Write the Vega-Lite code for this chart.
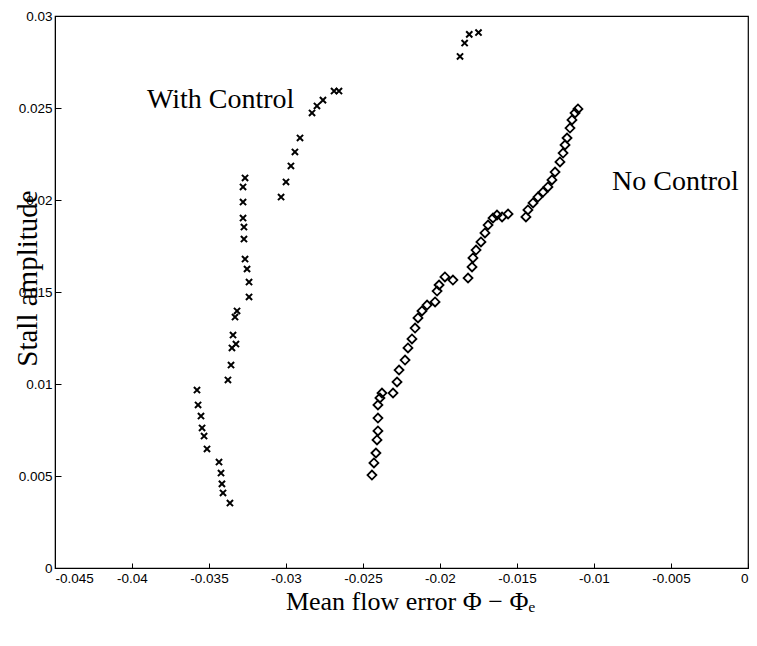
{
  "$schema": "https://vega.github.io/schema/vega-lite/v6.json",
  "autosize": {"type": "none"},
  "padding": {"left": 55, "top": 16, "right": 9, "bottom": 78},
  "width": 693,
  "height": 552,
  "background": "white",
  "config": {
    "view": {"stroke": "black", "strokeWidth": 1.2},
    "axis": {"grid": false, "domainColor": "black", "tickColor": "black", "labelColor": "black", "titleColor": "black", "labelFont": "Liberation Sans", "labelFontSize": 13.5, "titleFont": "Liberation Serif", "titleFontSize": 26, "titleFontWeight": "normal"}
  },
  "datasets": {
    "pts": [
      {"s": "with", "x": -0.0187, "y": 0.0278},
      {"s": "with", "x": -0.0184, "y": 0.02853},
      {"s": "with", "x": -0.0181, "y": 0.0290},
      {"s": "with", "x": -0.0175, "y": 0.0291},
      {"s": "with", "x": -0.02688, "y": 0.02592},
      {"s": "with", "x": -0.02656, "y": 0.02592},
      {"s": "with", "x": -0.0276, "y": 0.02543},
      {"s": "with", "x": -0.02799, "y": 0.02511},
      {"s": "with", "x": -0.02831, "y": 0.02473},
      {"s": "with", "x": -0.02909, "y": 0.02337},
      {"s": "with", "x": -0.02942, "y": 0.02261},
      {"s": "with", "x": -0.02968, "y": 0.02185},
      {"s": "with", "x": -0.03000, "y": 0.02098},
      {"s": "with", "x": -0.03032, "y": 0.02016},
      {"s": "with", "x": -0.03266, "y": 0.02120},
      {"s": "with", "x": -0.03279, "y": 0.02071},
      {"s": "with", "x": -0.03279, "y": 0.01989},
      {"s": "with", "x": -0.03279, "y": 0.01902},
      {"s": "with", "x": -0.03273, "y": 0.01853},
      {"s": "with", "x": -0.03273, "y": 0.01788},
      {"s": "with", "x": -0.03266, "y": 0.01679},
      {"s": "with", "x": -0.03253, "y": 0.01625},
      {"s": "with", "x": -0.03240, "y": 0.01554},
      {"s": "with", "x": -0.03240, "y": 0.01473},
      {"s": "with", "x": -0.03318, "y": 0.01397},
      {"s": "with", "x": -0.03331, "y": 0.01364},
      {"s": "with", "x": -0.03344, "y": 0.01266},
      {"s": "with", "x": -0.03325, "y": 0.01217},
      {"s": "with", "x": -0.03351, "y": 0.01196},
      {"s": "with", "x": -0.03357, "y": 0.01103},
      {"s": "with", "x": -0.03377, "y": 0.01022},
      {"s": "with", "x": -0.03578, "y": 0.00967},
      {"s": "with", "x": -0.03571, "y": 0.00886},
      {"s": "with", "x": -0.03552, "y": 0.00826},
      {"s": "with", "x": -0.03545, "y": 0.00761},
      {"s": "with", "x": -0.03532, "y": 0.00717},
      {"s": "with", "x": -0.03513, "y": 0.00647},
      {"s": "with", "x": -0.03435, "y": 0.00576},
      {"s": "with", "x": -0.03422, "y": 0.00516},
      {"s": "with", "x": -0.03416, "y": 0.00457},
      {"s": "with", "x": -0.03409, "y": 0.00408},
      {"s": "with", "x": -0.03364, "y": 0.00353},
      {"s": "no", "x": -0.02442, "y": 0.00505},
      {"s": "no", "x": -0.02429, "y": 0.00571},
      {"s": "no", "x": -0.02416, "y": 0.00625},
      {"s": "no", "x": -0.02409, "y": 0.00696},
      {"s": "no", "x": -0.02403, "y": 0.00745},
      {"s": "no", "x": -0.02403, "y": 0.00815},
      {"s": "no", "x": -0.02403, "y": 0.00886},
      {"s": "no", "x": -0.02390, "y": 0.00924},
      {"s": "no", "x": -0.02377, "y": 0.00951},
      {"s": "no", "x": -0.02305, "y": 0.00951},
      {"s": "no", "x": -0.02279, "y": 0.01011},
      {"s": "no", "x": -0.02266, "y": 0.01076},
      {"s": "no", "x": -0.02227, "y": 0.01130},
      {"s": "no", "x": -0.02208, "y": 0.01196},
      {"s": "no", "x": -0.02182, "y": 0.01245},
      {"s": "no", "x": -0.02162, "y": 0.01304},
      {"s": "no", "x": -0.02143, "y": 0.01359},
      {"s": "no", "x": -0.02117, "y": 0.01397},
      {"s": "no", "x": -0.02084, "y": 0.01429},
      {"s": "no", "x": -0.02032, "y": 0.01446},
      {"s": "no", "x": -0.02019, "y": 0.01505},
      {"s": "no", "x": -0.02006, "y": 0.01538},
      {"s": "no", "x": -0.01968, "y": 0.01582},
      {"s": "no", "x": -0.01916, "y": 0.01565},
      {"s": "no", "x": -0.01818, "y": 0.01576},
      {"s": "no", "x": -0.01792, "y": 0.01636},
      {"s": "no", "x": -0.01786, "y": 0.01685},
      {"s": "no", "x": -0.01766, "y": 0.01728},
      {"s": "no", "x": -0.01734, "y": 0.01772},
      {"s": "no", "x": -0.01708, "y": 0.01821},
      {"s": "no", "x": -0.01688, "y": 0.01864},
      {"s": "no", "x": -0.01656, "y": 0.01902},
      {"s": "no", "x": -0.01630, "y": 0.01918},
      {"s": "no", "x": -0.01597, "y": 0.01908},
      {"s": "no", "x": -0.01558, "y": 0.01924},
      {"s": "no", "x": -0.01442, "y": 0.01908},
      {"s": "no", "x": -0.01429, "y": 0.01946},
      {"s": "no", "x": -0.01396, "y": 0.01984},
      {"s": "no", "x": -0.01364, "y": 0.02016},
      {"s": "no", "x": -0.01331, "y": 0.02043},
      {"s": "no", "x": -0.01299, "y": 0.02071},
      {"s": "no", "x": -0.01273, "y": 0.02109},
      {"s": "no", "x": -0.01253, "y": 0.02152},
      {"s": "no", "x": -0.01221, "y": 0.02207},
      {"s": "no", "x": -0.01201, "y": 0.02255},
      {"s": "no", "x": -0.01188, "y": 0.02299},
      {"s": "no", "x": -0.01175, "y": 0.02337},
      {"s": "no", "x": -0.01156, "y": 0.02391},
      {"s": "no", "x": -0.01143, "y": 0.02435},
      {"s": "no", "x": -0.01123, "y": 0.02473},
      {"s": "no", "x": -0.01104, "y": 0.02495}
    ],
    "labels": [
      {"x": -0.03903, "y": 0.02543, "label": "With Control"},
      {"x": -0.00883, "y": 0.02098, "label": "No Control"}
    ]
  },
  "encoding": {
    "x": {"field": "x", "type": "quantitative",
      "scale": {"domain": [-0.045, 0], "nice": false, "zero": false},
      "axis": {"values": [-0.045, -0.04, -0.035, -0.03, -0.025, -0.02, -0.015, -0.01, -0.005, 0],
        "tickSize": -5, "labelPadding": 8, "format": "~g", "labelExpr": "replace(datum.label, '−', '-')",
        "title": "Mean flow error Φ − Φₑ", "titleX": 355, "titleY": 33, "titleBaseline": "middle"}},
    "y": {"field": "y", "type": "quantitative",
      "scale": {"domain": [0, 0.03], "nice": false},
      "axis": {"values": [0, 0.005, 0.01, 0.015, 0.02, 0.025, 0.03],
        "tickSize": -6, "labelPadding": 9, "format": "~g", "labelExpr": "replace(datum.label, '−', '-')",
        "title": "Stall amplitude", "titleFontSize": 29, "titleX": -28, "titleY": 262, "titleAngle": -90, "titleBaseline": "middle", "titleAlign": "center"}}
  },
  "layer": [
    {
      "data": {"name": "pts"},
      "transform": [{"filter": "datum.s === 'with'"}],
      "mark": {"type": "point", "shape": "M-1,-1L1,1M-1,1L1,-1", "filled": false, "stroke": "black", "strokeWidth": 2, "size": 38, "opacity": 1}
    },
    {
      "data": {"name": "pts"},
      "transform": [{"filter": "datum.s === 'no'"}],
      "mark": {"type": "point", "shape": "diamond", "filled": false, "stroke": "black", "strokeWidth": 1.8, "size": 80, "opacity": 1}
    },
    {
      "data": {"name": "labels"},
      "mark": {"type": "text", "align": "left", "baseline": "middle", "font": "Liberation Serif", "fontSize": 28, "color": "black"},
      "encoding": {"text": {"field": "label"}}
    }
  ]
}
